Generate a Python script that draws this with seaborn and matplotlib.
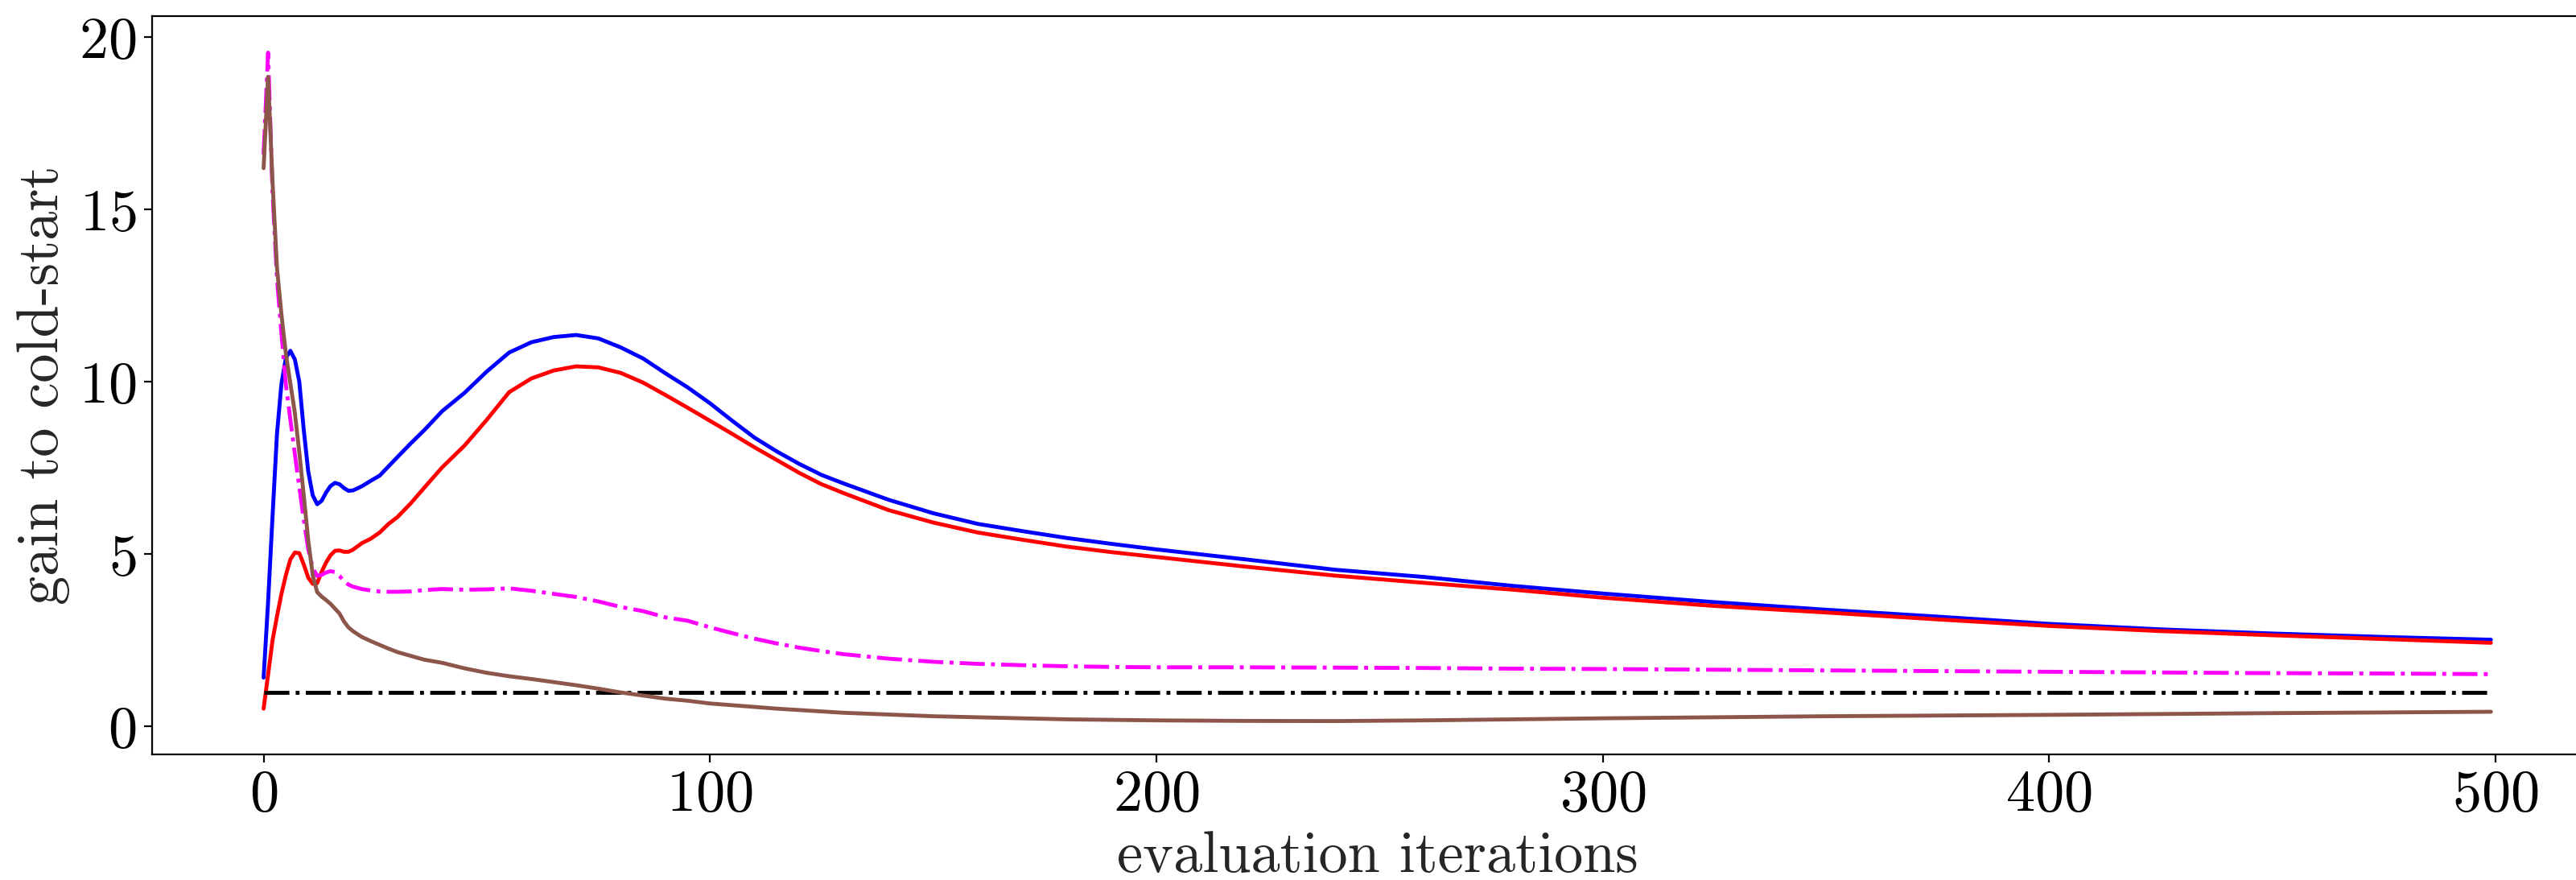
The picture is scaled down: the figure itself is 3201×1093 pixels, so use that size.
import matplotlib
matplotlib.use("Agg")
import matplotlib.pyplot as plt
import seaborn as sns
import pandas as pd

# ---- data ----
iterations = [0, 1, 2, 3, 4, 5, 6, 7, 8, 9, 10, 11, 12, 13, 14, 15, 16, 17, 18, 19, 20,
              22, 24, 26, 28, 30, 33, 36, 40, 45, 50, 55, 60, 65, 70, 75, 80, 85, 90, 95, 100,
              105, 110, 115, 120, 125, 130, 140, 150, 160, 170, 180, 190, 200, 220, 240, 260,
              280, 300, 325, 350, 375, 400, 425, 450, 475, 499]

blue_gain = [1.42, 3.6, 6.1, 8.5, 9.95, 10.7, 10.9, 10.65, 10.0, 8.6, 7.4, 6.71, 6.45, 6.55,
             6.79, 6.98, 7.07, 7.03, 6.92, 6.84, 6.85,
             6.97, 7.13, 7.28, 7.55, 7.82, 8.22, 8.6, 9.15, 9.68, 10.3, 10.85, 11.15, 11.3,
             11.36, 11.26, 11.0, 10.68, 10.25, 9.84, 9.38,
             8.87, 8.38, 7.98, 7.62, 7.3, 7.05, 6.58, 6.19, 5.88, 5.67, 5.47, 5.3, 5.14,
             4.85, 4.55, 4.34, 4.08, 3.86, 3.61, 3.39, 3.19, 2.98, 2.82, 2.7, 2.6, 2.52]

red_gain = [0.52, 1.5, 2.5, 3.2, 3.85, 4.4, 4.85, 5.05, 5.03, 4.7, 4.32, 4.14, 4.16, 4.49,
            4.76, 4.97, 5.1, 5.11, 5.07, 5.07, 5.13,
            5.32, 5.45, 5.63, 5.88, 6.08, 6.48, 6.93, 7.52, 8.15, 8.9, 9.7, 10.1, 10.33,
            10.45, 10.42, 10.26, 9.98, 9.62, 9.25, 8.87,
            8.49, 8.1, 7.73, 7.36, 7.03, 6.77, 6.28, 5.92, 5.63, 5.42, 5.22, 5.06, 4.92,
            4.64, 4.38, 4.17, 3.97, 3.74, 3.5, 3.31, 3.11, 2.92, 2.77, 2.65, 2.54, 2.43]

magenta_gain = [16.6, 19.55, 15.5, 13.0, 11.4, 9.9, 8.9, 7.9, 6.95, 6.0, 5.15, 4.6, 4.37,
                4.4, 4.47, 4.51, 4.48, 4.37, 4.22, 4.12, 4.06,
                3.99, 3.95, 3.92, 3.91, 3.91, 3.92, 3.96, 3.99, 3.97, 3.98, 4.01, 3.94, 3.85,
                3.76, 3.63, 3.47, 3.35, 3.17, 3.07, 2.88,
                2.71, 2.55, 2.41, 2.29, 2.19, 2.1, 1.97, 1.88, 1.82, 1.78, 1.75, 1.73, 1.72,
                1.72, 1.71, 1.7, 1.68, 1.67, 1.65, 1.63, 1.61, 1.59, 1.57, 1.55, 1.54, 1.52]

brown_gain = [16.2, 18.85, 15.8, 13.3, 11.95, 10.8, 9.95, 9.1, 7.95, 6.7, 5.4, 4.4, 3.9,
              3.77, 3.67, 3.56, 3.42, 3.28, 3.05, 2.88, 2.77,
              2.6, 2.48, 2.37, 2.26, 2.16, 2.05, 1.94, 1.85, 1.69, 1.56, 1.46, 1.38, 1.29,
              1.2, 1.1, 0.99, 0.9, 0.81, 0.75, 0.67,
              0.62, 0.57, 0.52, 0.48, 0.44, 0.4, 0.35, 0.3, 0.27, 0.24, 0.21, 0.195, 0.18,
              0.165, 0.16, 0.18, 0.21, 0.24, 0.27, 0.3, 0.32, 0.34, 0.365, 0.39, 0.41, 0.43]

cold_start_x = [0, 499]
cold_start_y = [1.0, 1.0]

xticks = [0, 100, 200, 300, 400, 500]
yticks = [0, 5, 10, 15, 20]

# ---- style ----
sns.set_style("ticks")
plt.rcParams["font.family"] = ["serif"]
plt.rcParams["font.serif"] = ["cmr10", "DejaVu Serif"]
plt.rcParams["mathtext.fontset"] = "cm"
plt.rcParams["axes.formatter.use_mathtext"] = True
plt.rcParams["axes.edgecolor"] = "black"
plt.rcParams["axes.linewidth"] = 0.8
plt.rcParams["xtick.color"] = "black"
plt.rcParams["ytick.color"] = "black"
plt.rcParams["xtick.major.size"] = 3.5
plt.rcParams["ytick.major.size"] = 3.5
plt.rcParams["xtick.major.width"] = 0.8
plt.rcParams["ytick.major.width"] = 0.8

LW = 1.75

fig = plt.figure(figsize=(16.005, 5.465), dpi=200)
ax = fig.add_axes([0.0591, 0.1430, 0.9511, 0.8383])

df = pd.DataFrame({
    "iter": iterations,
    "blue": blue_gain,
    "red": red_gain,
    "magenta": magenta_gain,
    "brown": brown_gain,
})

sns.lineplot(data=df, x="iter", y="blue", ax=ax, color="#0000ff", linewidth=LW)
sns.lineplot(data=df, x="iter", y="red", ax=ax, color="#ff0000", linewidth=LW)
sns.lineplot(data=df, x="iter", y="magenta", ax=ax, color="#ff00ff", linewidth=LW,
             linestyle="-.")
sns.lineplot(x=cold_start_x, y=cold_start_y, ax=ax, color="black", linewidth=LW,
             linestyle="-.")
sns.lineplot(data=df, x="iter", y="brown", ax=ax, color="#8c564b", linewidth=LW)

ax.set_xlim(-24.95, 523.95)
ax.set_ylim(-0.80, 20.6)
ax.set_xticks(xticks)
ax.set_yticks(yticks)
ax.tick_params(axis="both", labelsize=26)
ax.set_xlabel("evaluation iterations", fontsize=26)
ax.set_ylabel("gain to cold-start", fontsize=26)
for s in ax.spines.values():
    s.set_visible(True)
    s.set_color("black")

fig.savefig("out.png", dpi=200)
